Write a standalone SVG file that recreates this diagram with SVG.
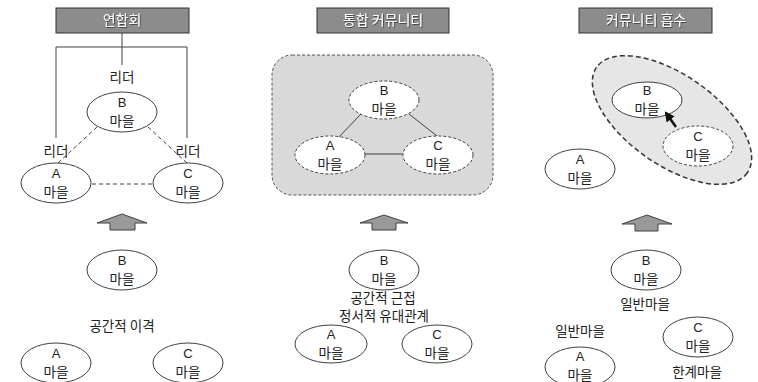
<svg xmlns="http://www.w3.org/2000/svg" width="758" height="382" viewBox="0 0 758 382">
<style>
text{font-family:"Noto Sans CJK KR","Liberation Sans",sans-serif;font-size:13.5px;fill:#222;text-anchor:middle}
text.l{font-family:"Liberation Sans","Noto Sans CJK KR",sans-serif;font-size:13px}
.title rect{fill:#8c8c8c;stroke:#333;stroke-width:1}
.title text{fill:#fff;font-size:14px;filter:url(#sh)}
.node ellipse{fill:#fff;stroke:#404040;stroke-width:1}
.dn ellipse{stroke-dasharray:3 2}
.conn line,.conn polyline{stroke:#404040;stroke-width:1;fill:none}
.dash{stroke-dasharray:4 3}
.barrow{fill:#999;stroke:#404040;stroke-width:1}
</style>
<defs>
<filter id="sh" x="-10%" y="-30%" width="130%" height="160%"><feDropShadow dx="0.8" dy="0.8" stdDeviation="0.6" flood-color="#333" flood-opacity="0.9"/></filter>
<marker id="ah" viewBox="0 0 10 10" refX="8" refY="5" markerWidth="4" markerHeight="4" orient="auto"><path d="M0,0 L10,5 L0,10 z" fill="#111"/></marker>
</defs>

<!-- Panel 1 -->
<g id="title1" class="title"><rect x="56" y="8" width="133" height="25"/><text x="122" y="25">연합회</text></g>
<g id="conn1" class="conn">
<line x1="122" y1="33" x2="122" y2="65"/>
<polyline points="56,138 56,47 187,47 187,138"/>
<line class="dash" x1="97" y1="127" x2="58" y2="163"/>
<line class="dash" x1="148" y1="127" x2="187" y2="163"/>
<line class="dash" x1="92" y1="184" x2="152" y2="184"/>
</g>
<g id="lbl1"><text x="122" y="82">리더</text><text x="56" y="156">리더</text><text x="188" y="156">리더</text></g>
<g id="p1B" class="node"><ellipse cx="122" cy="112" rx="35" ry="20"/><text class="l" x="122" y="107">B</text><text x="122" y="126">마을</text></g>
<g id="p1A" class="node"><ellipse cx="56" cy="183" rx="35" ry="20"/><text class="l" x="56" y="178">A</text><text x="56" y="197">마을</text></g>
<g id="p1C" class="node"><ellipse cx="188" cy="183" rx="35" ry="20"/><text class="l" x="188" y="178">C</text><text x="188" y="197">마을</text></g>
<g id="arrow1"><polygon class="barrow" points="122,214 147,223 135,223 135,230 110,230 110,223 97,223"/></g>
<g id="p1bB" class="node"><ellipse cx="122" cy="270" rx="35" ry="20"/><text class="l" x="122" y="265">B</text><text x="122" y="284">마을</text></g>
<g id="lbl1b"><text x="122" y="331" font-size="14.5">공간적 이격</text></g>
<g id="p1bA" class="node"><ellipse cx="56" cy="363" rx="35" ry="20"/><text class="l" x="56" y="358">A</text><text x="56" y="377">마을</text></g>
<g id="p1bC" class="node"><ellipse cx="188" cy="363" rx="35" ry="20"/><text class="l" x="188" y="358">C</text><text x="188" y="377">마을</text></g>

<!-- Panel 2 -->
<g id="title2" class="title"><rect x="317" y="8" width="132" height="25"/><text x="383" y="25">통합 커뮤니티</text></g>
<g id="community2"><rect x="272" y="55" width="221" height="140" rx="20" fill="#d9d9d9" stroke="#555" stroke-dasharray="3 2"/></g>
<g id="conn2" class="conn">
<line x1="361" y1="114" x2="338" y2="138"/>
<line x1="409" y1="114" x2="437" y2="136"/>
<line x1="365" y1="154" x2="403" y2="154"/>
</g>
<g id="p2B" class="node dn"><ellipse cx="384" cy="100" rx="35" ry="19"/><text class="l" x="384" y="95">B</text><text x="384" y="114">마을</text></g>
<g id="p2A" class="node dn"><ellipse cx="330" cy="155" rx="35" ry="19"/><text class="l" x="330" y="150">A</text><text x="330" y="169">마을</text></g>
<g id="p2C" class="node dn"><ellipse cx="438" cy="155" rx="35" ry="19"/><text class="l" x="438" y="150">C</text><text x="438" y="169">마을</text></g>
<g id="arrow2"><polygon class="barrow" points="384,215 408,223 396,223 396,230 372,230 372,223 360,223"/></g>
<g id="p2bB" class="node"><ellipse cx="384" cy="270" rx="35" ry="20"/><text class="l" x="384" y="265">B</text><text x="384" y="284">마을</text></g>
<g id="lbl2"><text x="383" y="302.8" font-size="12.3">공간적 근접</text><text x="384" y="320.8" font-size="12.3">정서적 유대관계</text></g>
<g id="p2bA" class="node"><ellipse cx="331" cy="344" rx="36" ry="19"/><text class="l" x="331" y="339">A</text><text x="331" y="358">마을</text></g>
<g id="p2bC" class="node"><ellipse cx="437" cy="344" rx="35" ry="19"/><text class="l" x="437" y="339">C</text><text x="437" y="358">마을</text></g>

<!-- Panel 3 -->
<g id="title3" class="title"><rect x="579" y="8" width="133" height="25"/><text x="646" y="25">커뮤니티 흡수</text></g>
<g id="absorb3"><ellipse cx="672" cy="120" rx="92" ry="45" transform="rotate(35 672 120)" fill="#e6e6e6" stroke="#333" stroke-width="1.5" stroke-dasharray="5 3"/></g>
<g id="p3B" class="node"><ellipse cx="647" cy="100" rx="35" ry="18"/><text class="l" x="647" y="95">B</text><text x="647" y="114">마을</text></g>
<g id="p3C" class="node dn"><ellipse cx="698" cy="146" rx="35" ry="20"/><text class="l" x="698" y="141">C</text><text x="698" y="160">마을</text></g>
<g id="conn3" class="conn"><line x1="676" y1="127" x2="666" y2="113" marker-end="url(#ah)" style="stroke:#111;stroke-width:2.5"/></g>
<g id="p3A" class="node"><ellipse cx="580" cy="169" rx="35" ry="20"/><text class="l" x="580" y="164">A</text><text x="580" y="183">마을</text></g>
<g id="arrow3"><polygon class="barrow" points="647,215 672,224 658,224 658,231 635,231 635,224 622,224"/></g>
<g id="p3bB" class="node"><ellipse cx="646" cy="270" rx="35" ry="20"/><text class="l" x="646" y="265">B</text><text x="646" y="284">마을</text></g>
<g id="lbl3"><text x="645" y="309">일반마을</text><text x="580" y="336">일반마을</text><text x="697" y="377">한계마을</text></g>
<g id="p3bA" class="node"><ellipse cx="580" cy="367" rx="35" ry="20"/><text class="l" x="580" y="361">A</text><text x="580" y="380">마을</text></g>
<g id="p3bC" class="node"><ellipse cx="698" cy="337" rx="35" ry="20"/><text class="l" x="698" y="332">C</text><text x="698" y="351">마을</text></g>
</svg>
